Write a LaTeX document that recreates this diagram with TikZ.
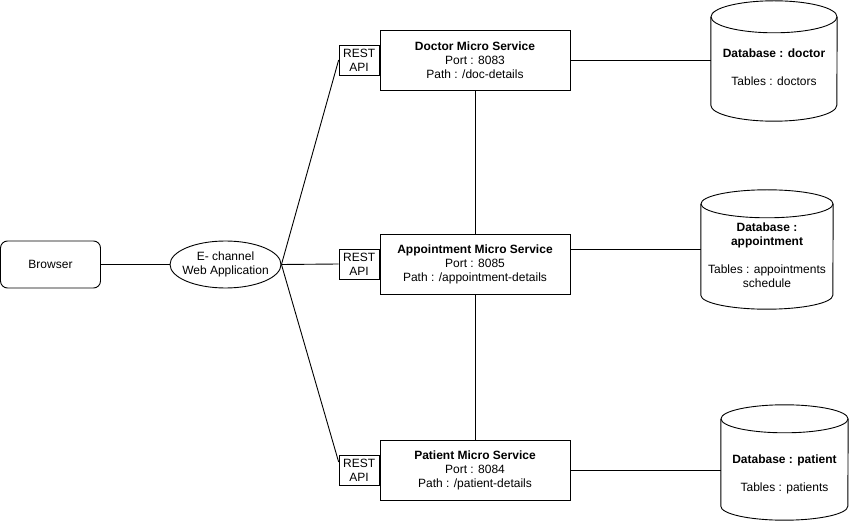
\documentclass[tikz,border=0pt]{standalone}
\usepackage{fontspec}
\setmainfont{Liberation Sans}
\usetikzlibrary{shapes.geometric}
\newcommand\dbcyl[3]{%
  \draw[lnk] ([yshift=-#3]#1.north west) -- ([yshift=#3]#1.south west)
    arc[start angle=180,end angle=360,x radius=#2,y radius=#3]
    -- ([yshift=-#3]#1.north east);
  \draw[lnk] ([yshift=-#3]#1.north) ellipse[x radius=#2,y radius=#3];
}
\tikzset{
  txt/.style={font=\fontsize{12}{14}\selectfont, align=center, inner sep=0pt},
  browserbox/.style={txt, draw, rounded corners=7pt, minimum width=100pt, minimum height=47pt, line width=0.9pt},
  appell/.style={txt, draw, ellipse, minimum width=111pt, minimum height=47pt, line width=0.9pt},
  svcbox/.style={txt, draw, rectangle, minimum width=190pt, minimum height=60pt, line width=0.9pt},
  restbox/.style={txt, draw, rectangle, minimum width=40pt, minimum height=30pt, line width=0.9pt},
  dbarea/.style={rectangle, inner sep=0pt},
  lnk/.style={line width=0.9pt, black},
}
\begin{document}
\begin{tikzpicture}[x=1pt,y=-1pt]
\useasboundingbox (0,0) rectangle (852,521);
% left side
\node[browserbox] (browser) at (50.5,264.5) {Browser};
\node[appell] (webapp) at (225.5,264.5) {\makebox[50pt]{E- channel}\\\makebox[50pt]{Web Application}};
% services
\node[svcbox] (doctor) at (475,60) {\textbf{Doctor Micro Service}\\Port : 8083\\Path : /doc-details};
\node[restbox, anchor=east] (restdoc) at (doctor.west) {REST\\API};
\node[svcbox] (appt) at (475,264) {\textbf{Appointment Micro Service}\\Port : 8085\\Path : /appointment-details};
\node[restbox, anchor=east] (restappt) at (appt.west) {REST\\API};
\node[svcbox] (patient) at (475,470) {\textbf{Patient Micro Service}\\Port : 8084\\Path : /patient-details};
\node[restbox, anchor=east] (restpat) at (patient.west) {REST\\API};
% databases
\node[dbarea, minimum width=126pt, minimum height=120pt] (dbdoc) at (774,61) {};
\dbcyl{dbdoc}{63pt}{16pt}
\node[txt] (dbdoctxt) at (774,67) {\textbf{Database : doctor}\\[14pt]Tables : doctors};
\node[dbarea, minimum width=132pt, minimum height=119pt] (dbappt) at (767,249.5) {};
\dbcyl{dbappt}{66pt}{14pt}
\node[txt] (dbappttxt) at (767,255) {\textbf{Database :}\\\textbf{appointment}\\[14pt]Tables : appointments\\schedule};
\node[dbarea, minimum width=127pt, minimum height=115pt] (dbpat) at (784.5,462.5) {};
\dbcyl{dbpat}{63.5pt}{14pt}
\node[txt] (dbpattxt) at (784.5,474) {\textbf{Database : patient}\\[14pt]Tables : patients};
% connectors
\draw[lnk] (browser.east) -- (webapp.west);
\draw[lnk] (webapp.east) -- (restdoc.west);
\draw[lnk] (webapp.east) -- (restappt.west);
\draw[lnk] (webapp.east) -- ([yshift=8pt]restpat.west);
\draw[lnk] (doctor.south) -- (appt.north);
\draw[lnk] (appt.south) -- (patient.north);
\draw[lnk] (doctor.east) -- (doctor.east -| dbdoc.west);
\draw[lnk] ([yshift=15pt]appt.east) -- ([yshift=15pt]appt.east -| dbappt.west);
\draw[lnk] (patient.east) -- (patient.east -| dbpat.west);
\end{tikzpicture}
\end{document}
